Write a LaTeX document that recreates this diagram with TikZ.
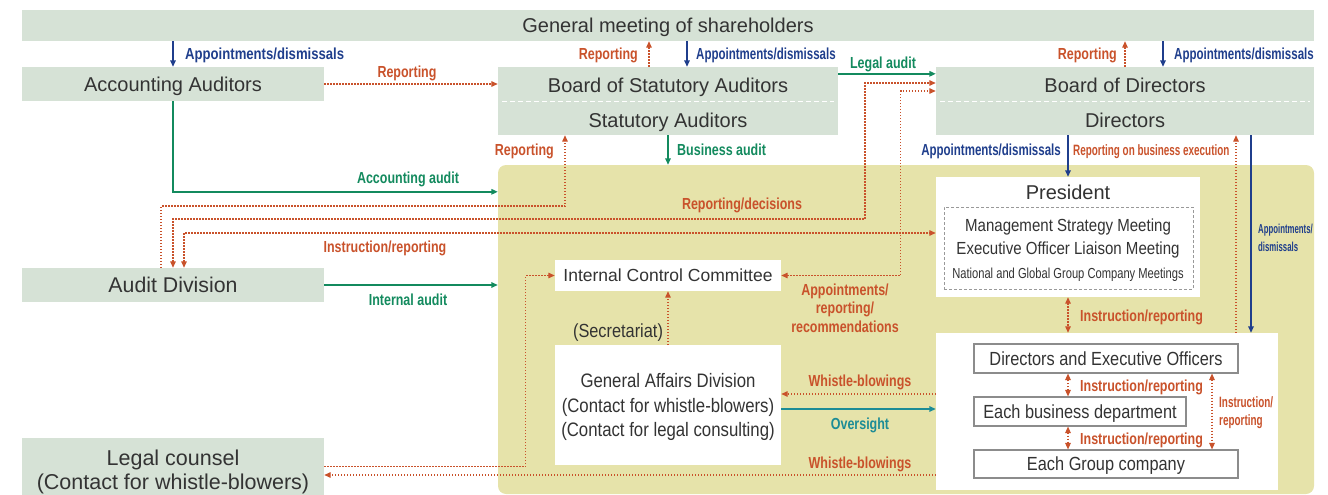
\documentclass[tikz,border=0pt]{standalone}
\usepackage{fontspec}
\setmainfont{Liberation Sans}
\newfontfamily\cnd[FakeStretch=0.86]{Liberation Sans}
\newfontfamily\ncnd[FakeStretch=0.77]{Liberation Sans}
\newfontfamily\lbl[FakeStretch=0.78]{Liberation Sans}
\newfontfamily\wlbl[FakeStretch=0.82]{Liberation Sans}
\newfontfamily\mlbl[FakeStretch=0.72]{Liberation Sans}
\newfontfamily\slbl[FakeStretch=0.66]{Liberation Sans}
\newfontfamily\xlbl[FakeStretch=0.6]{Liberation Sans}
\usetikzlibrary{arrows.meta}
\definecolor{boxg}{HTML}{D6E2D6}
\definecolor{yell}{HTML}{E6E3AA}
\definecolor{org}{HTML}{C9522B}
\definecolor{blu}{HTML}{1F3E8C}
\definecolor{grn}{HTML}{138A5E}
\definecolor{teal}{HTML}{1C8C96}
\definecolor{txt}{HTML}{333333}
\tikzset{
  box/.style={fill=boxg, inner sep=0pt, text=txt, text depth=0pt, font=\fontsize{20}{24}\selectfont},
  wbox/.style={fill=white, inner sep=0pt, text=txt, text depth=0pt},
  obox/.style={draw=black!45, line width=1.1pt, fill=white, inner sep=0pt, text=txt, text depth=0pt, font=\cnd\fontsize{19}{22}\selectfont},
  lab/.style={font=\lbl\bfseries\fontsize{16}{18.5}\selectfont, inner sep=0pt, text depth=0pt},
  olab/.style={lab, text=org},
  blab/.style={lab, text=blu},
  glab/.style={lab, text=grn},
  tl/.style={text=txt, inner sep=0pt, text depth=0pt},
  tipa/.tip={Triangle[length=6.5pt,width=5.5pt]},
  odot/.style={org, line width=1.3pt, dash pattern=on 1.3pt off 1.7pt},
  ora/.style={odot, -tipa},
  orb/.style={odot, tipa-tipa},
  bar/.style={blu, line width=1.5pt, -tipa},
  gar/.style={grn, line width=1.5pt, -tipa},
  tar/.style={teal, line width=1.5pt, -tipa},
}
\begin{document}
\begin{tikzpicture}[x=1pt,y=-1pt]
\useasboundingbox (0,0) rectangle (1328,495);
% top boxes
\node[box, minimum width=1292, minimum height=31] (gm) at (668,25.5) {General meeting of shareholders};
\node[box, minimum width=302, minimum height=34] (aa) at (173,84) {Accounting Auditors};
\node[box, minimum width=340, minimum height=68] (bsa) at (668,101) {};
\node[tl, font=\fontsize{20}{24}\selectfont] (bsat) at (668,85) {Board of Statutory Auditors};
\node[tl, font=\fontsize{20}{24}\selectfont] (sa) at (668,120) {Statutory Auditors};
\node[box, minimum width=378, minimum height=68] (bod) at (1125,101) {};
\node[tl, font=\fontsize{20}{24}\selectfont] (bodt) at (1125,85) {Board of Directors};
\node[tl, font=\fontsize{20}{24}\selectfont] (dir) at (1125,120) {Directors};
\draw[white, line width=1pt, dash pattern=on 5pt off 3pt, shorten <=4pt, shorten >=4pt] (bsa.west) -- (bsa.east);
\draw[white, line width=1pt, dash pattern=on 5pt off 3pt, shorten <=4pt, shorten >=4pt] (bod.west) -- (bod.east);
\node[box, minimum width=302, minimum height=34, font=\fontsize{21.3}{24}\selectfont] (ad) at (173,285) {Audit Division};
\node[box, minimum width=302, minimum height=57] (lc) at (173,466.5) {};
\node[tl, align=center, font=\fontsize{21.5}{24}\selectfont] (lct) at (173,470) {Legal counsel\\(Contact for whistle-blowers)};
% group region
\node[fill=yell, rounded corners=8pt, minimum width=816, minimum height=329, inner sep=0pt] (grp) at (906,329.5) {};
\node[wbox, minimum width=226, minimum height=31, font=\fontsize{17.5}{20}\selectfont] (icc) at (668,275.5) {Internal Control Committee};
\node[wbox, minimum width=226, minimum height=120, align=center, font=\cnd\fontsize{19.5}{24.5}\selectfont] (gad) at (668,405) {General Affairs Division\\(Contact for whistle-blowers)\\(Contact for legal consulting)};
\node[tl, font=\cnd\fontsize{19}{20}\selectfont] (sec) at (618,331) {(Secretariat)};
\node[wbox, minimum width=264, minimum height=120] (pres) at (1068,237) {};
\node[tl, font=\fontsize{20}{24}\selectfont] (prest) at (1068,192) {President};
\node[draw=black!40, line width=1pt, dash pattern=on 3pt off 2pt, fill=white, minimum width=249, minimum height=82, inner sep=0pt] (mtg) at (1068.5,248) {};
\node[tl, font=\cnd\fontsize{17.5}{20}\selectfont] (msm) at (1068,225) {Management Strategy Meeting};
\node[tl, font=\cnd\fontsize{17.5}{20}\selectfont] (eol) at (1068,248) {Executive Officer Liaison Meeting};
\node[tl, font=\ncnd\fontsize{14.5}{17}\selectfont] (ngm) at (1068,273) {National and Global Group Company Meetings};
\node[wbox, minimum width=342, minimum height=157] (low) at (1107,411.5) {};
\node[obox, minimum width=264, minimum height=29] (deo) at (1106,358.5) {Directors and Executive Officers};
\node[obox, minimum width=212, minimum height=29] (ebd) at (1080,411.5) {Each business department};
\node[obox, minimum width=264, minimum height=28] (egc) at (1106,464) {Each Group company};
% shareholders connectors
\draw[bar] (gm.south -| aa.north) -- (aa.north);
\node[blab, anchor=west, font=\wlbl\bfseries\fontsize{16}{18.5}\selectfont] (l1) at (185,54) {Appointments/dismissals};
\draw[ora] ([xshift=-19pt]bsa.north) -- ([xshift=-19pt]bsa.north |- gm.south);
\node[olab, anchor=east] (l2) at (638,54) {Reporting};
\draw[bar] ([xshift=19pt]bsa.north |- gm.south) -- ([xshift=19pt]bsa.north);
\node[blab, anchor=west, font=\mlbl\bfseries\fontsize{16}{18.5}\selectfont] (l3) at (696,54) {Appointments/dismissals};
\draw[ora] (bod.north) -- (bod.north |- gm.south);
\node[olab, anchor=east] (l4) at (1117,54) {Reporting};
\draw[bar] ([xshift=38pt]bod.north |- gm.south) -- ([xshift=38pt]bod.north);
\node[blab, anchor=west, font=\mlbl\bfseries\fontsize{16}{18.5}\selectfont] (l5) at (1174,54) {Appointments/dismissals};
% auditors
\draw[ora] (aa.east) -- (aa.east -| bsa.west);
\node[olab] (l6) at (407,72) {Reporting};
\draw[gar] ([yshift=-7pt]bsa.north east) -- ([yshift=-7pt]bod.north west);
\node[glab] (l7) at (883,63) {Legal audit};
\draw[gar] (bsa.south) -- (bsa.south |- grp.north);
\node[glab, anchor=west] (l9) at (677,150) {Business audit};
\draw[gar] (aa.south) |- ([yshift=-27pt]grp.north west);
\node[glab] (l12) at (408,178) {Accounting audit};
\draw[gar] (ad.east) -- (ad.east -| grp.west);
\node[glab] (l15) at (408,300) {Internal audit};
% audit division dotted lines
\coordinate (k1) at (865,219);
\coordinate (k2) at (565,206);
\draw[ora] ([xshift=-12pt]ad.north) |- (k2) -- (k2 |- bsa.south);
\node[olab, anchor=east] (l8) at (554,150) {Reporting};
\draw[orb] (ad.north) |- (k1) |- ([yshift=18pt]bod.west);
\node[olab] (l13) at (742,204) {Reporting/decisions};
\draw[orb] ([xshift=11pt]ad.north) |- ([yshift=4pt]pres.west);
\node[olab] (l14) at (385,247) {Instruction/reporting};
\draw[orb] (icc.east) -| ([xshift=-35pt,yshift=10pt]bod.west) -- ([yshift=10pt]bod.west);
\node[olab, align=center] (l16) at (845,308) {Appointments/\\reporting/\\recommendations};
% legal counsel and general affairs
\draw[ora] (lc.east) -| ([xshift=-29pt]icc.west) -- (icc.west);
\draw[ora] ([yshift=-8.5pt]lc.east -| low.west) -- ([yshift=-8.5pt]lc.east);
\node[olab] (l20) at (860,463) {Whistle-blowings};
\draw[ora] ([yshift=11pt]gad.east -| low.west) -- ([yshift=11pt]gad.east);
\node[olab] (l18) at (860,381) {Whistle-blowings};
\draw[tar] ([yshift=-4pt]gad.east) -- ([yshift=-4pt]gad.east -| low.west);
\node[lab, text=teal] (l19) at (860,424) {Oversight};
\draw[ora] (gad.north) -- (icc.south);
% directors / president
\draw[bar] (bod.south -| pres.north) -- (pres.north);
\node[blab, anchor=east, font=\mlbl\bfseries\fontsize{16}{18.5}\selectfont] (l10) at (1061,150) {Appointments/dismissals};
\draw[ora] ([xshift=129pt]low.north) -- ([xshift=129pt]low.north |- bod.south);
\node[olab, anchor=west, font=\slbl\bfseries\fontsize{15}{17}\selectfont] (l11) at (1073,150) {Reporting on business execution};
\draw[bar] ([xshift=144pt]low.north |- bod.south) -- ([xshift=144pt]low.north);
\node[blab, anchor=west, align=left, font=\xlbl\bfseries\fontsize{13}{18}\selectfont] (l24) at (1258,238) {Appointments/\\dismissals};
\draw[orb] (pres.south) -- (pres.south |- low.north);
\node[olab, anchor=west] (l17) at (1080,316) {Instruction/reporting};
\draw[orb] ([xshift=-12pt]ebd.north) -- ([xshift=-12pt]ebd.north |- deo.south);
\node[olab, anchor=west] (l21) at (1080,386) {Instruction/reporting};
\draw[orb] ([xshift=-12pt]ebd.south) -- ([xshift=-12pt]ebd.south |- egc.north);
\node[olab, anchor=west] (l22) at (1080,439) {Instruction/reporting};
\draw[orb] ([xshift=106pt]deo.south) -- ([xshift=106pt]egc.north);
\node[olab, anchor=west, align=left, font=\slbl\bfseries\fontsize{15}{18}\selectfont] (l23) at (1219,411) {Instruction/\\reporting};
\end{tikzpicture}
\end{document}
